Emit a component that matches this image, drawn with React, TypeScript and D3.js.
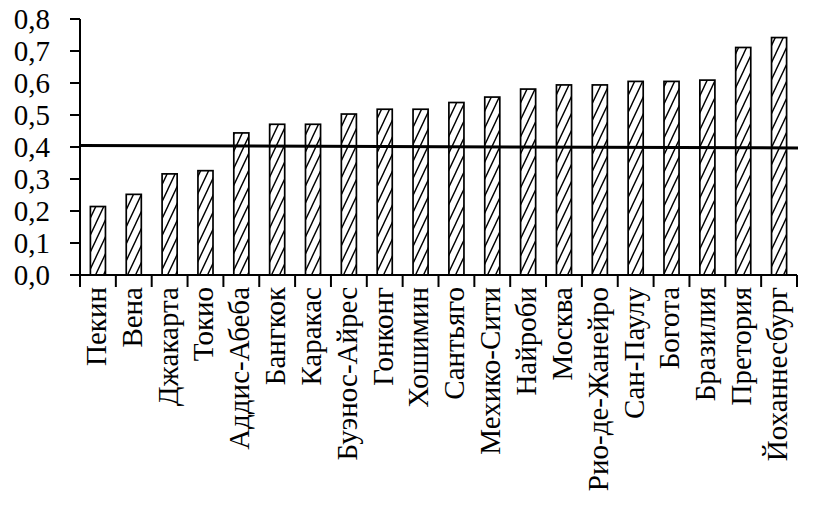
import React, { useEffect, useRef } from 'react';
import * as d3 from 'd3';

const cities = [
  'Пекин', 'Вена', 'Джакарта', 'Токио', 'Аддис-Абеба', 'Бангкок', 'Каракас',
  'Буэнос-Айрес', 'Гонконг', 'Хошимин', 'Сантьяго', 'Мехико-Сити', 'Найроби',
  'Москва', 'Рио-де-Жанейро', 'Сан-Паулу', 'Богота', 'Бразилия', 'Претория',
  'Йоханнесбург',
];

const values = [
  0.214, 0.252, 0.316, 0.326, 0.444, 0.471, 0.471, 0.503, 0.518, 0.518,
  0.539, 0.556, 0.581, 0.594, 0.594, 0.605, 0.605, 0.609, 0.711, 0.742,
];

// reference line, slightly sloped in the source (left end, right end)
const refLine = [0.405, 0.397];

const yTicks = [0, 0.1, 0.2, 0.3, 0.4, 0.5, 0.6, 0.7, 0.8];

const W = 813;
const H = 515;

export default function App() {
  const svgRef = useRef<SVGSVGElement>(null);

  useEffect(() => {
    if (!svgRef.current) return;
    const svg = d3.select(svgRef.current);
    svg.selectAll('*').remove();

    const margin = { top: 19, right: 16, bottom: 240, left: 80 };
    const width = W - margin.left - margin.right;
    const height = H - margin.top - margin.bottom;
    const font = '"Liberation Serif", "Times New Roman", Times, serif';

    // hatch pattern ( "/" strokes )
    const defs = svg.append('defs');
    const pat = defs
      .append('pattern')
      .attr('id', 'hatch')
      .attr('patternUnits', 'userSpaceOnUse')
      .attr('width', 8)
      .attr('height', 17);
    pat.append('rect').attr('width', 8).attr('height', 17).attr('fill', '#fff');
    pat
      .append('path')
      .attr('d', 'M-1,19.1 L9,-2.1 M-9,19.1 L1,-2.1 M7,19.1 L17,-2.1')
      .attr('stroke', '#000')
      .attr('stroke-width', 1.4);

    const g = svg
      .append('g')
      .attr('transform', `translate(${margin.left},${margin.top})`);

    const x = d3.scaleBand<string>().domain(cities).range([0, width]).paddingInner(0.58).paddingOuter(0.29);
    const xStep = d3.scaleLinear().domain([0, cities.length]).range([0, width]);
    const y = d3.scaleLinear().domain([0, 0.8]).range([height, 0]);

    // bars
    g.selectAll('.bar')
      .data(values)
      .enter()
      .append('rect')
      .attr('class', 'bar')
      .attr('x', (d, i) => x(cities[i])!)
      .attr('y', (d) => y(d))
      .attr('width', x.bandwidth())
      .attr('height', (d) => height - y(d))
      .attr('fill', 'url(#hatch)')
      .attr('stroke', '#000')
      .attr('stroke-width', 1.7);

    // y axis
    g.append('line')
      .attr('x1', 0).attr('x2', 0)
      .attr('y1', y(0.8)).attr('y2', height + 12)
      .attr('stroke', '#000').attr('stroke-width', 2);

    g.selectAll('.ytick')
      .data(yTicks)
      .enter()
      .append('line')
      .attr('x1', -10).attr('x2', 0)
      .attr('y1', (d) => y(d)).attr('y2', (d) => y(d))
      .attr('stroke', '#000').attr('stroke-width', 2);

    g.selectAll('.ylabel')
      .data(yTicks)
      .enter()
      .append('text')
      .attr('x', -30)
      .attr('y', (d) => y(d))
      .attr('dy', '0.34em')
      .attr('text-anchor', 'end')
      .style('font-family', font)
      .style('font-size', '29px')
      .text((d) => d.toFixed(1).replace('.', ','));

    // x axis
    g.append('line')
      .attr('x1', 0).attr('x2', width)
      .attr('y1', height).attr('y2', height)
      .attr('stroke', '#000').attr('stroke-width', 2);

    g.selectAll('.xtick')
      .data(d3.range(cities.length + 1))
      .enter()
      .append('line')
      .attr('x1', (d) => xStep(d)).attr('x2', (d) => xStep(d))
      .attr('y1', height).attr('y2', height + 12)
      .attr('stroke', '#000').attr('stroke-width', 2);

    g.selectAll('.xlabel')
      .data(cities)
      .enter()
      .append('text')
      .attr('transform', (d) => `translate(${x(d)! + x.bandwidth() / 2 - 2},${height + 12}) rotate(-90)`)
      .attr('dy', '0.34em')
      .attr('text-anchor', 'end')
      .style('font-family', font)
      .style('font-size', '29px')
      .text((d) => d);

    // reference line
    g.append('line')
      .attr('x1', 0).attr('x2', width + 1)
      .attr('y1', y(refLine[0])).attr('y2', y(refLine[1]))
      .attr('stroke', '#000').attr('stroke-width', 3);
  }, []);

  return (
    <>
      <style>{'body{margin:0}'}</style>
      <svg ref={svgRef} width={W} height={H} style={{ display: 'block', background: '#fff' }} />
    </>
  );
}
